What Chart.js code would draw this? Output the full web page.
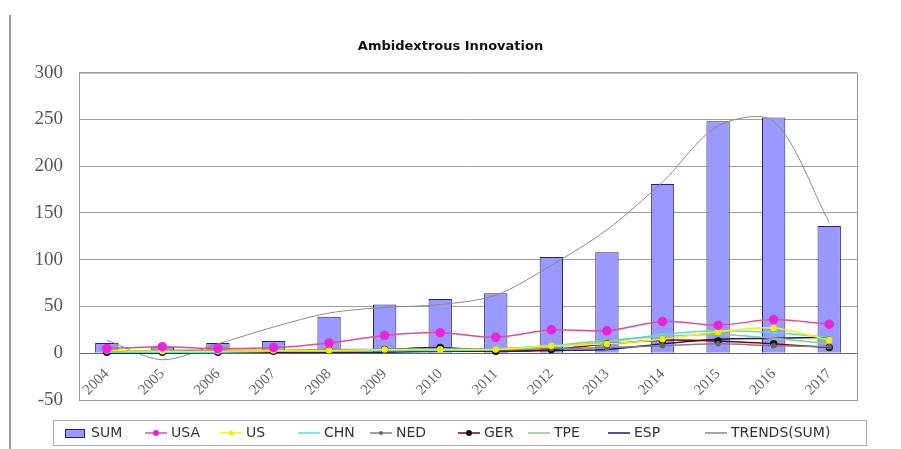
<!DOCTYPE html>
<html>
<head>
<meta charset="utf-8">
<script src="https://cdn.jsdelivr.net/npm/chart.js@4.4.1/dist/chart.umd.min.js"></script>
<style>
  html, body { margin: 0; padding: 0; background: #fff; overflow: hidden; }
  #wrap { width: 901px; height: 449px; position: relative; }
</style>
</head>
<body>
<div id="wrap"><canvas id="chart" width="901" height="449"></canvas></div>
<script>
// Data
const years = ['2004', '2005', '2006', '2007', '2008', '2009', '2010', '2011', '2012', '2013', '2014', '2015', '2016', '2017'];
const sumValues = [11, 7, 11, 13, 39, 52, 58, 64, 103, 108, 181, 248, 252, 136];
const usaValues = [5, 7, 5, 6, 11, 19, 22, 17, 25, 24, 34, 30, 36, 31];
const usValues  = [3, 2, 2, 3, 3, 4, 4, 4, 8, 10, 15, 23, 27, 14];
const chnValues = [1, 1, 1, 2, 2, 3, 3, 4, 7, 12, 20, 24, 22, 17];
const nedValues = [2, 3, 3, 3, 4, 4, 5, 4, 5, 6, 8, 10, 8, 7];
const gerValues = [1, 1, 1, 2, 3, 4, 6, 2, 4, 10, 14, 13, 10, 6];
const tpeValues = [2, 2, 2, 2, 3, 4, 4, 5, 8, 14, 18, 20, 16, 10];
const espValues = [0, 0, 1, 1, 1, 1, 2, 2, 3, 4, 10, 15, 16, 17];
const trendValues = [14, -7, 10, 28, 43, 49, 52, 62, 94, 132, 183, 243, 248, 140];
const yTicks = [-50, 0, 50, 100, 150, 200, 250, 300];

// helper for the line series
function lineSet(label, data, color, pointColor, radius, style) {
    return {
        type: 'line',
        label: label,
        data: data,
        borderColor: color,
        backgroundColor: pointColor,
        pointBorderColor: pointColor,
        borderWidth: 1.5,
        pointRadius: radius,
        pointStyle: style || 'circle',
        tension: 0.3,
        fill: false,
    };
}

const datasets = [
    {
        type: 'bar',
        label: 'SUM',
        data: sumValues,
        backgroundColor: '#9999ff',
        borderColor: '#22226e',
        borderWidth: 1,
        barPercentage: 0.42,
        categoryPercentage: 1,
        order: 10,
    },
    lineSet('USA', usaValues, '#e0508f', '#ee22dd', 4),
    lineSet('US', usValues, '#f5f500', '#f0f000', 2.5),
    lineSet('CHN', chnValues, '#55dddd', '#55dddd', 0),
    lineSet('NED', nedValues, '#808080', '#666666', 2),
    lineSet('GER', gerValues, '#800000', '#111111', 3),
    lineSet('TPE', tpeValues, '#88cc88', '#88cc88', 0),
    lineSet('ESP', espValues, '#1a1a70', '#1a1a70', 0),
    {
        type: 'line',
        label: 'TRENDS(SUM)',
        data: trendValues,
        borderColor: '#8a8a8a',
        borderWidth: 1,
        pointRadius: 0,
        tension: 0.3,
        fill: false,
    },
];

// Frame, plot border and the boxed legend at the bottom
const framePlugin = {
    id: 'frame',
    afterDraw(chart) {
        const ctx = chart.ctx;
        const a = chart.chartArea;
        ctx.save();
        // left frame line
        ctx.strokeStyle = '#999';
        ctx.lineWidth = 2;
        ctx.beginPath();
        ctx.moveTo(10, 15);
        ctx.lineTo(10, 449);
        ctx.stroke();
        // plot area border
        ctx.lineWidth = 1;
        ctx.strokeStyle = '#999';
        ctx.strokeRect(a.left + 0.5, a.top + 0.5, a.right - a.left, a.bottom - a.top);

        // legend box
        ctx.strokeStyle = '#aaa';
        ctx.strokeRect(53.5, 420.5, 813, 25);
        const cols = [65, 145, 220, 298, 370, 458, 528, 608, 705];
        const y = 433;
        ctx.font = '14px "DejaVu Sans"';
        ctx.textBaseline = 'middle';
        ctx.textAlign = 'left';
        chart.data.datasets.forEach((ds, i) => {
            const x = cols[i];
            if (ds.type === 'bar') {
                ctx.fillStyle = ds.backgroundColor;
                ctx.fillRect(x, y - 4, 20, 8);
                ctx.strokeStyle = ds.borderColor;
                ctx.strokeRect(x + 0.5, y - 3.5, 19, 8);
            } else {
                ctx.strokeStyle = ds.borderColor;
                ctx.lineWidth = 1.5;
                ctx.beginPath();
                ctx.moveTo(x, y);
                ctx.lineTo(x + 22, y);
                ctx.stroke();
                if (ds.pointRadius > 0) {
                    ctx.fillStyle = ds.backgroundColor;
                    ctx.beginPath();
                    ctx.arc(x + 11, y, Math.min(ds.pointRadius, 3), 0, Math.PI * 2);
                    ctx.fill();
                }
                ctx.lineWidth = 1;
            }
            ctx.fillStyle = '#333';
            ctx.fillText(ds.label, x + 26, y);
        });
        ctx.restore();
    }
};

const ctx = document.getElementById('chart').getContext('2d');
const chart = new Chart(ctx, {
    data: { labels: years, datasets: datasets },
    options: {
        responsive: false,
        animation: false,
        devicePixelRatio: 1,
        layout: { padding: { left: 20, right: 20, top: 0, bottom: 49 } },
        plugins: {
            legend: { display: false },
            tooltip: { enabled: false },
            title: {
                display: true,
                text: 'Ambidextrous Innovation',
                color: '#111',
                font: { family: '"DejaVu Sans"', size: 13, weight: 'bold' },
                padding: { top: 39, bottom: 18 },
            },
        },
        scales: {
            x: {
                position: { y: 0 },
                grid: { display: false },
                border: { display: true, color: '#666', width: 1 },
                ticks: {
                    color: '#666',
                    font: { family: '"Liberation Serif"', size: 15 },
                    minRotation: 45,
                    maxRotation: 45,
                    autoSkip: false,
                    padding: 4,
                },
            },
            y: {
                min: -50,
                max: 300,
                afterBuildTicks(scale) {
                    scale.ticks = yTicks.map(v => ({ value: v }));
                },
                afterFit(scale) { scale.width = 59; },
                grid: { color: '#a0a0a0', drawTicks: false },
                border: { color: '#999' },
                ticks: {
                    color: '#555',
                    font: { family: '"Liberation Serif"', size: 19 },
                    padding: 16,
                },
            },
            // empty right axis, only to keep the plot's right edge where it is
            yRight: {
                type: 'linear',
                position: 'right',
                afterFit(scale) { scale.width = 24; },
                grid: { drawOnChartArea: false, drawTicks: false },
                border: { display: false },
                ticks: { display: false },
            },
        },
    },
    plugins: [framePlugin],
});
</script>
</body>
</html>
